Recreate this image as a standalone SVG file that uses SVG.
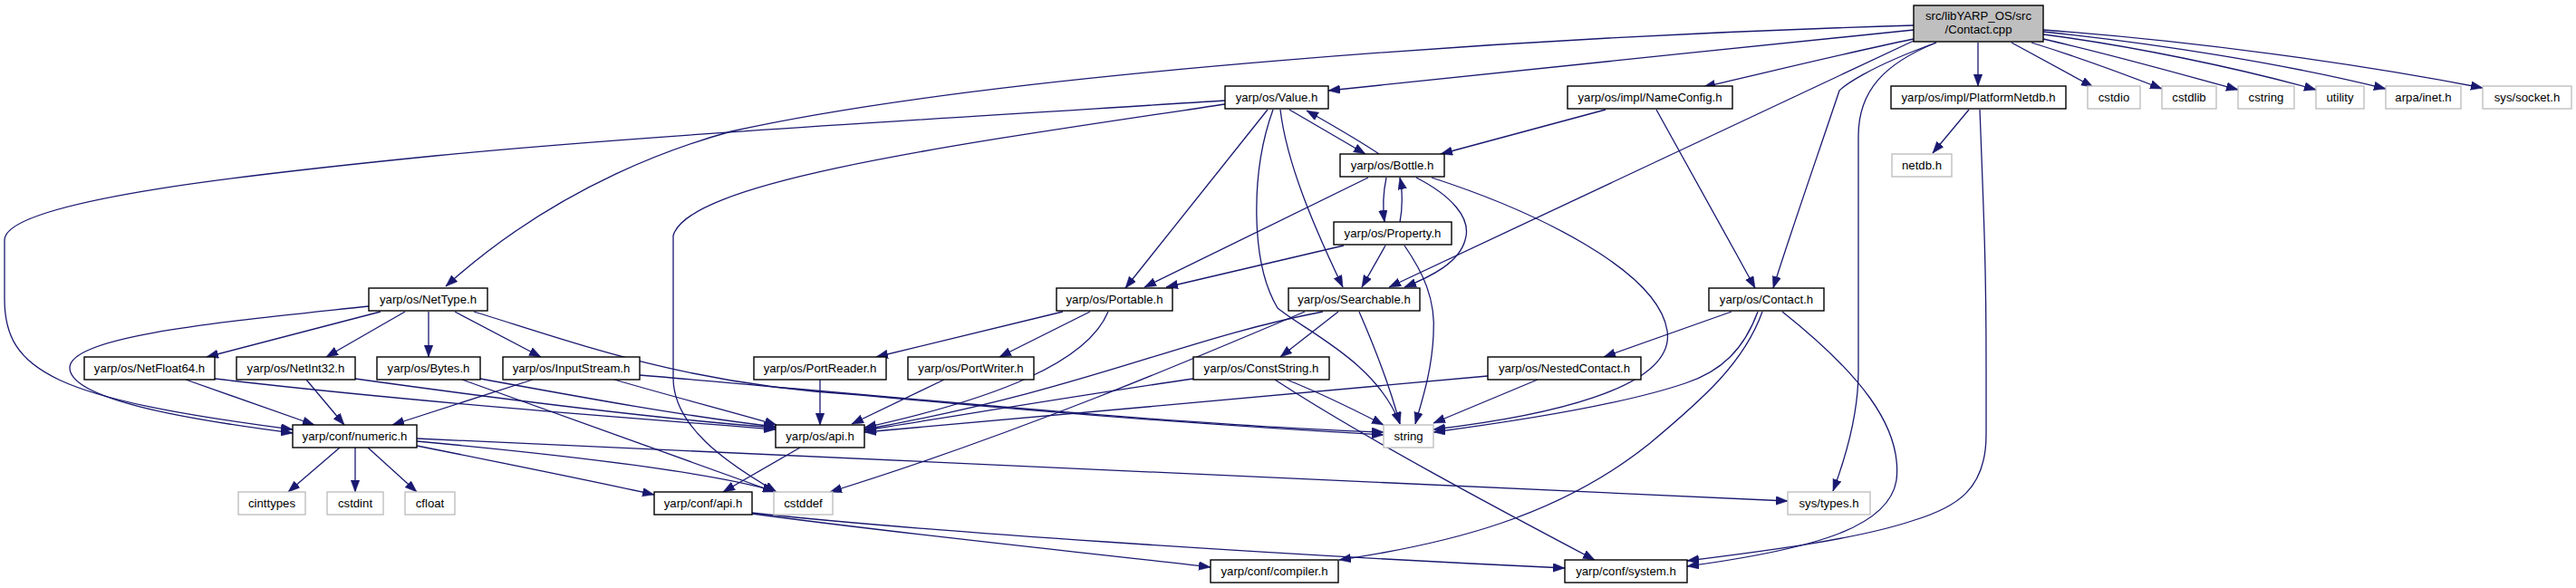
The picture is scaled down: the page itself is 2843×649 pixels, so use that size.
<svg xmlns="http://www.w3.org/2000/svg" width="2843" height="649" viewBox="0 0 2843 649">
<style>
rect.d{fill:#fff;stroke:#000;stroke-width:1.4}
rect.x{fill:#fff;stroke:#bfbfbf;stroke-width:1.4}
rect.r{fill:#bfbfbf;stroke:#000;stroke-width:1.4}
text{font-family:"Liberation Sans",Arial,Helvetica,sans-serif;font-size:13.2px;fill:#000;text-anchor:middle}
#edges path{fill:none;stroke:#191970;stroke-width:1.3;marker-end:url(#ah)}
</style>
<defs>
<marker id="ah" markerUnits="userSpaceOnUse" markerWidth="14" markerHeight="10" refX="13" refY="4.8" orient="auto"><path d="M0,0 L13,4.8 L0,9.6 z" fill="#191970" stroke="#191970" stroke-width="0.5"/></marker>
</defs>
<rect width="2843" height="649" fill="#fff"/>
<g id="edges">
<path d="M2112,28 C1700,40 1100,80 807,145 C760,158 620,200 492,316"/>
<path d="M2112,33 C1900,55 1650,80 1466,100"/>
<path d="M2112,43 C2030,60 1950,80 1880,96"/>
<path d="M2112,45 L1533,317"/>
<path d="M2137,47 C2060,75 2035,95 2030,100 C2010,160 1975,260 1957,318"/>
<path d="M2137,47 C2080,70 2051,100 2051,150 L2051,410 C2051,460 2035,510 2023,542"/>
<path d="M2183,47 L2183,95"/>
<path d="M2220,47 L2310,96"/>
<path d="M2242,47 C2290,62 2340,80 2386,98"/>
<path d="M2255,43 C2330,60 2400,80 2470,99"/>
<path d="M2255,38 C2350,50 2470,75 2556,99"/>
<path d="M2255,35 C2380,48 2520,70 2633,98"/>
<path d="M2255,33 C2420,45 2600,70 2740,97"/>
<path d="M2173,121 L2133,169"/>
<path d="M2185,121 C2190,250 2192,300 2192,400 L2192,480 C2192,540 2160,560 2110,575 C2050,595 1950,608 1862,619"/>
<path d="M1967,344 C2050,410 2100,470 2093,530 C2085,580 2010,605 1862,625"/>
<path d="M1911,344 L1770,394"/>
<path d="M1940,344 C1925,385 1900,410 1860,423 C1780,450 1650,468 1582,477"/>
<path d="M1945,344 C1925,400 1880,440 1820,490 C1720,570 1600,600 1478,618"/>
<path d="M1580,196 C1700,235 1830,300 1840,365 C1850,430 1700,460 1582,474"/>
<path d="M1772,121 L1590,170"/>
<path d="M1828,121 C1860,180 1900,250 1937,318"/>
<path d="M1423,121 L1507,170"/>
<path d="M1522,170 C1500,155 1470,138 1442,122"/>
<path d="M1399,121 L1242,318"/>
<path d="M1405,121 C1380,190 1380,290 1410,340 C1440,365 1520,400 1545,468"/>
<path d="M1413,121 C1420,180 1450,250 1482,317"/>
<path d="M1352,111 C1100,127 700,150 480,172 C300,190 5,220 5,265 L5,330 C5,410 60,440 323,474"/>
<path d="M407,338 C250,355 80,370 77,405 C75,440 200,462 323,478"/>
<path d="M1352,115 C1050,160 760,200 743,260 L743,417 C743,470 800,510 857,543"/>
<path d="M1530,196 C1526,215 1526,230 1528,245"/>
<path d="M1545,245 C1548,230 1548,210 1545,196"/>
<path d="M1510,196 L1263,317"/>
<path d="M1563,196 C1600,215 1625,240 1617,265 C1610,290 1580,305 1550,317"/>
<path d="M1483,271 L1287,317"/>
<path d="M1529,271 L1503,317"/>
<path d="M1550,271 C1570,300 1585,330 1582,370 C1580,410 1570,440 1562,468"/>
<path d="M1477,344 L1413,394"/>
<path d="M1500,344 C1520,390 1535,430 1545,468"/>
<path d="M1460,344 C1300,375 1200,430 954,474"/>
<path d="M1440,344 C1320,395 1120,480 916,543"/>
<path d="M1317,418 C1200,435 1050,460 954,475"/>
<path d="M1420,419 C1460,435 1500,455 1527,469"/>
<path d="M1407,419 C1500,480 1650,560 1760,618"/>
<path d="M1642,415 C1450,432 1150,460 954,477"/>
<path d="M1697,419 L1582,467"/>
<path d="M1173,344 L967,394"/>
<path d="M1203,344 L1103,394"/>
<path d="M1223,344 C1200,400 1100,440 954,472"/>
<path d="M905,419 L905,469"/>
<path d="M1042,419 L940,468"/>
<path d="M420,344 L228,394"/>
<path d="M447,344 L360,394"/>
<path d="M473,344 L473,394"/>
<path d="M502,344 L597,394"/>
<path d="M523,344 C640,380 760,425 950,436 C1150,455 1350,470 1527,480"/>
<path d="M706,414 C900,430 1300,470 1527,477"/>
<path d="M205,419 L347,469"/>
<path d="M237,418 C450,443 700,462 856,474"/>
<path d="M338,419 L380,469"/>
<path d="M392,418 C550,440 720,462 856,472"/>
<path d="M530,418 C650,440 760,460 856,471"/>
<path d="M510,419 C650,470 780,515 855,543"/>
<path d="M588,419 L433,469"/>
<path d="M678,419 C750,440 810,455 857,469"/>
<path d="M375,494 L318,543"/>
<path d="M392,494 L392,543"/>
<path d="M406,494 L460,543"/>
<path d="M460,492 C550,510 650,530 722,546"/>
<path d="M460,487 C600,500 780,520 855,542"/>
<path d="M460,484 L1973,553"/>
<path d="M883,494 L798,543"/>
<path d="M830,567 C1000,590 1200,610 1336,626"/>
<path d="M830,566 C1000,585 1400,612 1727,627"/>
</g>
<g id="root"><rect class="r" x="2112" y="6" width="143" height="40"/><text x="2183.5" y="22">src/libYARP_OS/src</text><text x="2183.5" y="37">/Contact.cpp</text></g>
<g id="n_value"><rect class="d" x="1352" y="95" width="114" height="25"/><text x="1409" y="112">yarp/os/Value.h</text></g>
<g id="n_nameconfig"><rect class="d" x="1730" y="95" width="182" height="25"/><text x="1821" y="112">yarp/os/impl/NameConfig.h</text></g>
<g id="n_platformnetdb"><rect class="d" x="2087" y="95" width="193" height="25"/><text x="2183.5" y="112">yarp/os/impl/PlatformNetdb.h</text></g>
<g id="n_cstdio"><rect class="x" x="2304" y="95" width="58" height="25"/><text x="2333" y="112">cstdio</text></g>
<g id="n_cstdlib"><rect class="x" x="2386" y="95" width="60" height="25"/><text x="2416" y="112">cstdlib</text></g>
<g id="n_cstring"><rect class="x" x="2470" y="95" width="62" height="25"/><text x="2501" y="112">cstring</text></g>
<g id="n_utility"><rect class="x" x="2556" y="95" width="53" height="25"/><text x="2582.5" y="112">utility</text></g>
<g id="n_arpainet"><rect class="x" x="2633" y="95" width="83" height="25"/><text x="2674.5" y="112">arpa/inet.h</text></g>
<g id="n_syssocket"><rect class="x" x="2740" y="95" width="98" height="25"/><text x="2789" y="112">sys/socket.h</text></g>
<g id="n_bottle"><rect class="d" x="1479" y="170" width="115" height="25"/><text x="1536.5" y="187">yarp/os/Bottle.h</text></g>
<g id="n_netdb"><rect class="x" x="2088" y="170" width="66" height="25"/><text x="2121" y="187">netdb.h</text></g>
<g id="n_property"><rect class="d" x="1472" y="245" width="130" height="25"/><text x="1537" y="262">yarp/os/Property.h</text></g>
<g id="n_nettype"><rect class="d" x="407" y="318" width="131" height="25"/><text x="472.5" y="335">yarp/os/NetType.h</text></g>
<g id="n_portable"><rect class="d" x="1166" y="318" width="128" height="25"/><text x="1230" y="335">yarp/os/Portable.h</text></g>
<g id="n_searchable"><rect class="d" x="1422" y="318" width="145" height="25"/><text x="1494.5" y="335">yarp/os/Searchable.h</text></g>
<g id="n_contact"><rect class="d" x="1886" y="318" width="127" height="25"/><text x="1949.5" y="335">yarp/os/Contact.h</text></g>
<g id="n_netfloat64"><rect class="d" x="93" y="394" width="144" height="25"/><text x="165" y="411">yarp/os/NetFloat64.h</text></g>
<g id="n_netint32"><rect class="d" x="261" y="394" width="131" height="25"/><text x="326.5" y="411">yarp/os/NetInt32.h</text></g>
<g id="n_bytes"><rect class="d" x="416" y="394" width="114" height="25"/><text x="473" y="411">yarp/os/Bytes.h</text></g>
<g id="n_inputstream"><rect class="d" x="555" y="394" width="151" height="25"/><text x="630.5" y="411">yarp/os/InputStream.h</text></g>
<g id="n_portreader"><rect class="d" x="832" y="394" width="146" height="25"/><text x="905" y="411">yarp/os/PortReader.h</text></g>
<g id="n_portwriter"><rect class="d" x="1002" y="394" width="139" height="25"/><text x="1071.5" y="411">yarp/os/PortWriter.h</text></g>
<g id="n_conststring"><rect class="d" x="1317" y="394" width="150" height="25"/><text x="1392" y="411">yarp/os/ConstString.h</text></g>
<g id="n_nestedcontact"><rect class="d" x="1642" y="394" width="169" height="25"/><text x="1726.5" y="411">yarp/os/NestedContact.h</text></g>
<g id="n_numeric"><rect class="d" x="323" y="469" width="137" height="25"/><text x="391.5" y="486">yarp/conf/numeric.h</text></g>
<g id="n_osapi"><rect class="d" x="856" y="469" width="98" height="25"/><text x="905" y="486">yarp/os/api.h</text></g>
<g id="n_string"><rect class="x" x="1527" y="469" width="55" height="25"/><text x="1554.5" y="486">string</text></g>
<g id="n_cinttypes"><rect class="x" x="263" y="543" width="74" height="25"/><text x="300" y="560">cinttypes</text></g>
<g id="n_cstdint"><rect class="x" x="361" y="543" width="62" height="25"/><text x="392" y="560">cstdint</text></g>
<g id="n_cfloat"><rect class="x" x="447" y="543" width="55" height="25"/><text x="474.5" y="560">cfloat</text></g>
<g id="n_confapi"><rect class="d" x="722" y="543" width="108" height="25"/><text x="776" y="560">yarp/conf/api.h</text></g>
<g id="n_cstddef"><rect class="x" x="854" y="543" width="65" height="25"/><text x="886.5" y="560">cstddef</text></g>
<g id="n_systypes"><rect class="x" x="1973" y="543" width="91" height="25"/><text x="2018.5" y="560">sys/types.h</text></g>
<g id="n_compiler"><rect class="d" x="1336" y="618" width="141" height="25"/><text x="1406.5" y="635">yarp/conf/compiler.h</text></g>
<g id="n_system"><rect class="d" x="1727" y="618" width="135" height="25"/><text x="1794.5" y="635">yarp/conf/system.h</text></g>
</svg>
